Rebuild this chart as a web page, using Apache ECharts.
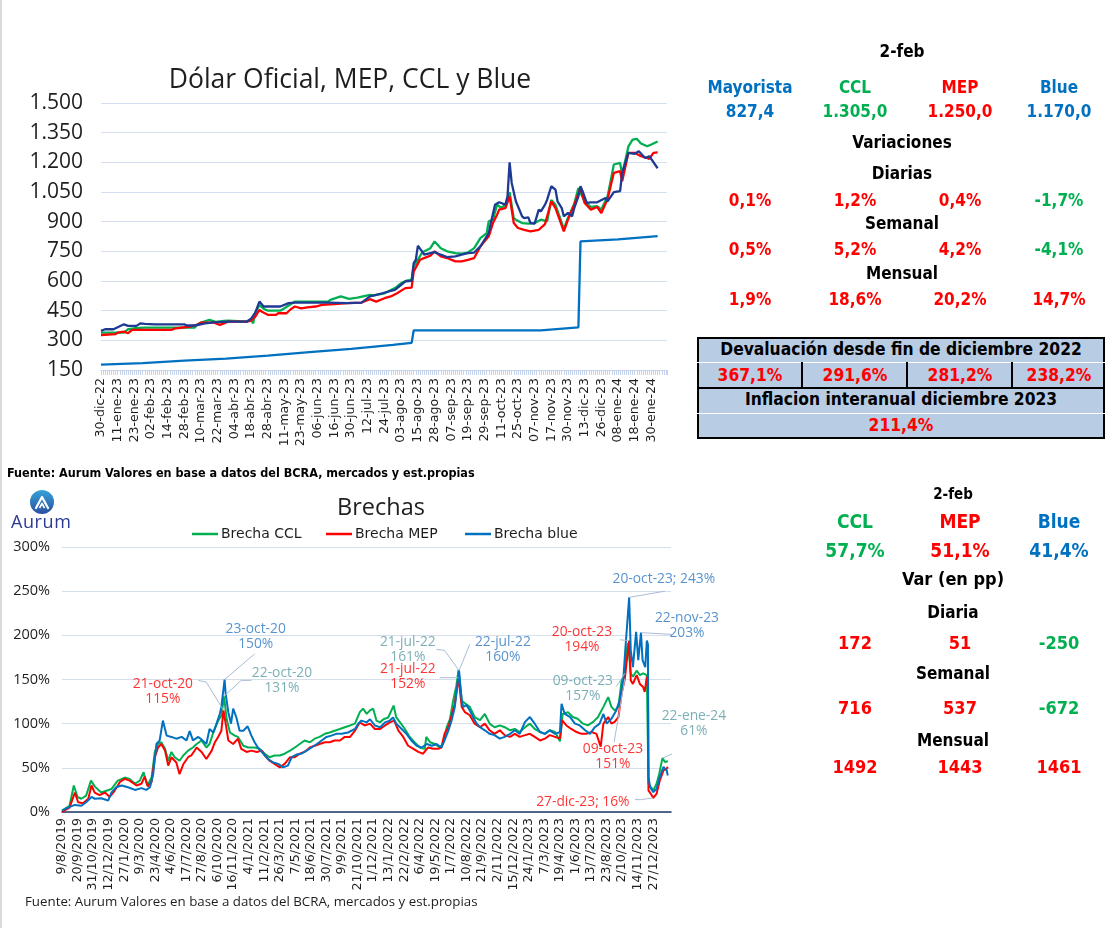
<!DOCTYPE html>
<html><head><meta charset="utf-8">
<script src="https://cdn.jsdelivr.net/npm/echarts@6/dist/echarts.min.js"></script>
<style>
html,body{margin:0;padding:0;background:#fff;}
#wrap{position:relative;width:1106px;height:928px;overflow:hidden;}
#chart{position:absolute;left:0;top:0;width:1106px;height:928px;}
#edge{position:absolute;left:0;top:0;width:2px;height:928px;background:#d9d9d9;}
.t{position:absolute;font-family:"DejaVu Sans Condensed","DejaVu Sans",sans-serif;font-stretch:condensed;font-weight:bold;white-space:nowrap;transform:translate(-50%,-50%);line-height:1;}
.box{position:absolute;left:697px;top:337px;width:408px;height:102px;box-sizing:border-box;background:#B8CCE4;border:2.5px solid #000;}
.hl{position:absolute;height:0;}
.vl{position:absolute;width:0;border-left:2.5px solid #000;}
.src1{position:absolute;left:7px;top:465px;font-family:"DejaVu Sans Condensed","DejaVu Sans",sans-serif;font-stretch:condensed;font-weight:bold;font-size:12.5px;color:#000;white-space:nowrap;}
.src2{position:absolute;left:25px;top:892px;font-family:"Open Sans","Noto Sans",sans-serif;font-size:13.3px;color:#1e1e1e;white-space:nowrap;}
.logo{position:absolute;left:10px;top:489px;width:70px;height:44px;}
.logotxt{position:absolute;left:1px;top:20px;font-family:"Open Sans","Noto Sans",sans-serif;font-size:18px;color:#2B3A8F;letter-spacing:0.6px;}
</style></head>
<body><div id="wrap"><div id="chart"></div><div id="edge"></div></div>
<script>
// ---------------- DATA ----------------
const topLabels = ['30-dic-22','11-ene-23','23-ene-23','02-feb-23','14-feb-23','28-feb-23','10-mar-23','22-mar-23','04-abr-23','18-abr-23','28-abr-23','11-may-23','23-may-23','06-jun-23','16-jun-23','30-jun-23','12-jul-23','24-jul-23','03-ago-23','15-ago-23','28-ago-23','07-sep-23','19-sep-23','29-sep-23','11-oct-23','25-oct-23','07-nov-23','17-nov-23','30-nov-23','13-dic-23','26-dic-23','08-ene-24','18-ene-24','30-ene-24'];
const TOP_STEP = 8;      // trading days between top labels
const bottomLabels = ['9/8/2019','20/9/2019','31/10/2019','12/12/2019','27/1/2020','9/3/2020','23/4/2020','4/6/2020','17/7/2020','27/8/2020','6/10/2020','16/11/2020','4/1/2021','11/2/2021','26/3/2021','7/5/2021','18/6/2021','30/7/2021','9/9/2021','21/10/2021','1/12/2021','13/1/2022','22/2/2022','6/4/2022','19/5/2022','1/7/2022','10/8/2022','21/9/2022','2/11/2022','15/12/2022','24/1/2023','7/3/2023','19/4/2023','1/6/2023','13/7/2023','23/8/2023','2/10/2023','14/11/2023','27/12/2023'];
const BOTTOM_STEP = 29;  // trading days between bottom labels

// top chart: [trading-day index, ARS per USD]
const topMayorista = [[0,177],[20,185],[40,197],[60,208],[80,223],[100,240],[120,257],[140,277],[149,287],[150,350],[211,350],[229,366],[230,800],[248,810],[267,827.4]];
const topCCL = [[0,339],[2,339],[11,339],[12,348],[13,356],[16,361],[21,364],[45,364],[46,378],[48,390],[52,403],[55,393],[59,398],[61,400],[66,397],[70,395],[72,405],[73,386],[74,440],[76,478],[78,460],[80,450],[86,450],[88,462],[93,496],[109,496],[110,505],[115,522],[119,510],[123,516],[129,530],[131,527],[136,538],[141,564],[144,589],[147,603],[149,606],[150,674],[152,707],[154,744],[158,766],[160,800],[163,766],[166,750],[170,741],[173,738],[176,744],[179,766],[182,817],[185,842],[186,902],[188,910],[190,986],[192,969],[194,986],[196,1049],[198,918],[199,910],[202,893],[205,890],[208,893],[211,910],[214,902],[216,1010],[218,985],[220,925],[222,862],[224,920],[227,990],[229,1070],[232,1000],[235,975],[238,978],[240,961],[243,1028],[246,1189],[249,1197],[250,1138],[253,1281],[255,1315],[257,1319],[259,1295],[262,1281],[264,1290],[267,1305]];
const topMEP = [[0,327],[7,331],[8,339],[11,344],[13,336],[15,353],[34,353],[35,359],[43,370],[46,378],[48,390],[54,390],[57,378],[59,386],[61,395],[70,395],[72,400],[74,420],[76,454],[77,446],[80,429],[84,429],[85,437],[89,437],[91,457],[93,471],[96,462],[99,467],[103,471],[106,479],[112,483],[118,488],[125,491],[129,508],[132,496],[136,513],[139,522],[142,538],[146,564],[149,567],[150,648],[153,707],[155,716],[158,728],[160,750],[163,724],[166,716],[170,699],[173,699],[176,707],[179,716],[182,775],[186,826],[188,893],[190,935],[191,961],[194,969],[196,1028],[198,893],[200,868],[203,859],[206,851],[210,859],[213,888],[216,1003],[218,969],[220,910],[222,851],[224,910],[227,986],[230,1070],[232,995],[235,961],[238,974],[240,944],[243,1015],[246,1147],[249,1155],[250,1104],[253,1248],[256,1248],[259,1231],[262,1222],[263,1217],[265,1248],[267,1250]];
const topBlue = [[0,348],[2,356],[6,356],[11,381],[13,373],[17,373],[19,386],[21,383],[26,381],[40,381],[41,375],[45,375],[50,386],[54,391],[61,395],[70,395],[72,410],[74,440],[76,496],[78,471],[86,471],[90,488],[93,491],[109,491],[118,488],[125,491],[129,522],[131,527],[135,538],[138,547],[141,555],[144,581],[146,598],[149,601],[150,690],[151,707],[152,778],[154,750],[155,733],[158,741],[160,746],[163,733],[166,721],[170,724],[173,733],[176,741],[179,744],[182,775],[186,842],[187,893],[189,986],[191,998],[194,986],[195,1028],[196,1200],[197,1096],[199,1003],[200,978],[202,927],[203,918],[205,922],[206,893],[208,890],[210,961],[211,952],[213,986],[214,1011],[216,1079],[218,1062],[219,1003],[221,969],[222,927],[224,944],[226,927],[227,969],[229,1028],[230,1079],[231,1054],[233,995],[235,998],[238,998],[242,1020],[243,1003],[246,1049],[249,1054],[250,1147],[253,1248],[256,1243],[258,1256],[261,1222],[263,1231],[267,1170]];

// bottom chart: [trading-day index, gap %]
const gapCCL = [[0,1.5],[14,7],[22,30],[29,17],[36,15],[45,18.5],[54,35.5],[61,29],[73,22],[83,24],[92,26],[104,35.5],[117,39],[126,37.5],[136,32],[145,35.5],[152,45],[159,30],[167,39],[173,68],[179,77],[185,79],[192,71.5],[198,58],[204,68],[210,62],[219,58],[226,64],[235,69.5],[244,73],[251,77],[260,81],[269,73],[275,77],[282,90],[291,103.5],[297,109],[302,131],[307,105],[313,90],[322,86.5],[328,85],[338,75],[347,73],[359,73],[368,71.5],[378,66],[387,62],[396,64],[406,64],[415,66],[425,69.5],[434,73],[443,77],[452,81],[462,79],[471,83],[480,85],[490,88.5],[499,90],[508,92],[518,94],[527,96],[537,98],[546,100],[555,113],[561,117],[568,111],[574,115],[580,117],[586,103.5],[593,101.5],[599,105],[608,107],[618,120.5],[623,107],[630,101.5],[639,94],[648,85],[657,79],[667,73],[676,71.5],[679,85],[686,79],[695,77],[704,73],[710,77],[717,96],[723,105],[729,126],[735,143],[739,161],[745,126],[751,123],[760,119],[769,107.5],[779,104],[788,111],[797,100],[806,96],[816,98],[825,96],[835,92.5],[844,94],[853,90.5],[863,96],[872,100],[881,94],[891,90.5],[900,88.5],[909,92.5],[919,90.5],[928,80],[933,111],[943,113],[952,107.5],[961,105.5],[971,100],[980,98],[990,102],[999,107.5],[1009,119],[1018,130],[1024,119],[1030,115],[1037,119],[1043,149],[1049,157],[1052,183],[1055,191],[1060,157],[1064,153],[1071,160],[1077,155],[1083,157],[1090,155],[1092,154],[1093,32],[1102,24.5],[1108,32],[1113,43],[1119,61],[1124,56.5],[1129,57.7]];
const gapMEP = [[0,0],[2,1],[14,5],[24,22],[30,11],[39,10],[49,15],[55,30],[61,22],[70,19],[80,22],[89,17],[98,24],[108,34],[117,37.5],[126,35.5],[139,30],[148,32],[154,40],[160,29],[167,34],[173,62],[179,73],[185,77],[192,69.5],[198,52.5],[204,62],[213,56],[219,43],[226,54],[235,62],[241,64],[251,73],[260,68],[269,60],[279,69.5],[285,79],[291,85],[297,92],[301,115],[305,100],[310,81],[319,77],[328,83],[334,71.5],[344,68],[353,69.5],[363,68],[372,69.5],[378,64],[387,58],[396,54.5],[406,50.5],[415,54.5],[425,62],[434,62],[443,66],[452,68],[462,73],[471,75],[480,77],[490,79],[499,79],[508,81],[518,81],[527,85],[537,85],[546,92],[555,101.5],[564,98],[574,100],[583,94],[593,94],[602,98],[611,101.5],[619,103.5],[627,92],[636,85],[645,75],[655,71.5],[664,68],[673,66],[682,73],[692,71.5],[701,71.5],[707,73],[713,88.5],[720,96],[726,109],[732,122.5],[739,152],[745,119],[751,113],[760,109.5],[769,100],[779,96],[788,100],[797,92.5],[806,88.5],[816,92.5],[825,87],[835,85],[844,88.5],[853,85],[863,87],[872,88.5],[881,85],[891,81],[900,83],[909,87],[919,85],[928,83],[932,104],[940,98],[949,94],[959,90.5],[968,88.5],[977,88.5],[987,90.5],[996,88.5],[1004,74],[1009,100],[1018,107.5],[1024,100],[1030,102],[1037,107.5],[1043,134],[1049,151],[1052,168],[1057,194],[1060,149],[1064,145],[1071,155],[1077,145],[1083,141.5],[1086,136],[1090,153],[1092,150],[1093,24.5],[1099,19],[1102,16],[1108,20.5],[1114,35.5],[1121,47],[1127,49],[1129,51.1]];
const gapBlue = [[0,1.5],[11,5],[24,8],[36,7],[45,11],[55,17],[61,15],[73,15.5],[86,13],[92,22],[101,28],[111,30],[123,28],[136,25],[148,27],[157,25],[164,28],[170,43],[176,77],[182,81],[188,103.5],[195,86.5],[204,85],[213,83],[223,85],[232,81],[238,91.5],[244,81],[254,85],[260,82],[269,77],[275,94],[282,90],[288,100],[294,111],[297,119],[303,150],[305,134],[310,113],[315,100],[319,117],[325,107],[331,92],[338,92],[346,97],[353,86.5],[359,79],[365,73],[375,66],[384,60],[394,56],[403,54.5],[412,50.5],[421,52.5],[428,62],[437,65],[446,66],[456,69.5],[465,73],[475,77],[484,81],[493,85],[502,86.5],[511,88.5],[521,88.5],[533,90],[546,94],[552,100],[558,103.5],[568,101.5],[574,105],[583,98],[593,96],[602,101.5],[611,103.5],[617,107],[623,100],[633,94],[642,88.5],[651,81],[661,75],[670,73],[680,77],[689,75],[698,77],[707,73],[713,81],[720,92],[726,103.5],[732,118.5],[740,160],[745,126],[748,119],[754,121],[760,115],[766,107.5],[773,100],[779,96],[788,92.5],[797,88.5],[806,87],[816,83],[825,85],[835,88.5],[844,92.5],[853,88.5],[863,102],[872,107.5],[881,100],[891,90.5],[900,88.5],[909,92.5],[919,88.5],[928,90.5],[931,122.5],[937,111],[947,107.5],[956,100],[965,98],[975,92.5],[984,88.5],[993,96],[1002,100],[1009,111],[1015,100],[1024,105.5],[1033,115],[1039,126],[1046,149],[1050,185],[1057,243],[1060,183],[1064,164],[1070,204],[1074,172],[1079,203],[1082,172],[1087,164],[1090,194],[1092,190],[1093,39.5],[1096,28],[1102,22.5],[1108,26],[1114,39.5],[1121,51],[1127,47],[1129,41.4]];

// tables
const quoteDate = '2-feb';
const quoteNames = ['Mayorista','CCL','MEP','Blue'];
const quoteValues = ['827,4','1.305,0','1.250,0','1.170,0'];
const varDiarias = ['0,1%','1,2%','0,4%','-1,7%'];
const varSemanal = ['0,5%','5,2%','4,2%','-4,1%'];
const varMensual = ['1,9%','18,6%','20,2%','14,7%'];
const devalTitle = 'Devaluación desde fin de diciembre 2022';
const devalValues = ['367,1%','291,6%','281,2%','238,2%'];
const inflTitle = 'Inflacion interanual diciembre 2023';
const inflValue = '211,4%';
const gapNames = ['CCL','MEP','Blue'];
const gapValues = ['57,7%','51,1%','41,4%'];
const gapDiaria = ['172','51','-250'];
const gapSemanal = ['716','537','-672'];
const gapMensual = ['1492','1443','1461'];
const sourceText = 'Fuente: Aurum Valores en base a datos del BCRA, mercados y est.propias';

// ---------------- STYLE ----------------
const GREEN='#00B050', RED='#FF0000', BLUE='#0070C0', NAVY='#1F3A93', TEAL='#5A9BA3', ABLUE='#2E78C2', INK='#1e1e1e';
const CF = '"Open Sans","Noto Sans",sans-serif';
const XF = '"DejaVu Sans",sans-serif';

const annotations = [
  {text:'21-oct-20\n115%', color:RED,  at:[188,136], leader:[[254,149],[269,147],[301,115]]},
  {text:'23-oct-20\n150%', color:ABLUE,at:[361,199], leader:[[359,179],[303,150]]},
  {text:'22-oct-20\n131%', color:TEAL, at:[410,148.4], leader:[[353,149],[334,149],[302,131]]},
  {text:'21-jul-22\n161%', color:TEAL, at:[644.5,183.5], leader:[[698,184],[713,183],[739,161]]},
  {text:'21-jul-22\n152%', color:RED,  at:[644.5,152.9], leader:[[704,152],[739,152]]},
  {text:'22-jul-22\n160%', color:ABLUE,at:[821.6,183.5], leader:[[760,190],[740,160]]},
  {text:'20-oct-23\n194%', color:RED,  at:[969,195.4], leader:[[1040,195],[1057,194]]},
  {text:'09-oct-23\n157%', color:TEAL, at:[970.7,139.4], leader:[[1033,142],[1049,157]]},
  {text:'09-oct-23\n151%', color:RED,  at:[1026.7,62.4], leader:[[1029,79],[1049,151]]},
  {text:'27-dic-23; 16%',  color:RED,  at:[970.7,11], leader:[[1068,14],[1080,14],[1101,16]]},
  {text:'20-oct-23; 243%', color:ABLUE,at:[1121.7,263.2], leader:[[1057,243],[1124,250]]},
  {text:'22-nov-23\n203%', color:ABLUE,at:[1164.7,211.2], leader:[[1079,203],[1139,201]]},
  {text:'22-ene-24\n61%',  color:TEAL, at:[1177.6,99.8], leader:[[1119,61],[1142,67]]}
];

function thousands(v){ return v>=1000 ? Math.floor(v/1000)+'.'+String(v%1000).padStart(3,'0') : String(v); }
function lineSeries(name, data, color, xi, w){
  return {name, type:'line', data, xAxisIndex:xi, yAxisIndex:xi, showSymbol:false, symbol:'none',
    lineStyle:{color, width:w}, itemStyle:{color}, silent:true, animation:false};
}

const chart = echarts.init(document.getElementById('chart'));
const legendBase = {top:527, padding:0, icon:'rect', itemWidth:26, itemHeight:2.5, itemGap:0,
  textStyle:{fontFamily:XF, fontSize:14, color:INK, padding:[0,0,0,-2]}, selectedMode:false};
chart.setOption({
  animation:false,
  graphic:[
    {type:'text', x:350, y:80, style:{text:'Dólar Oficial, MEP, CCL y Blue', font:'normal 26.5px '+CF, fill:INK, textAlign:'center', textVerticalAlign:'middle'}},
    {type:'text', x:381, y:508, style:{text:'Brechas', font:'normal 23.5px '+CF, fill:INK, textAlign:'center', textVerticalAlign:'middle'}}
  ],
  legend:[
    Object.assign({}, legendBase, {left:192, data:['Brecha CCL']}),
    Object.assign({}, legendBase, {left:326, data:['Brecha MEP']}),
    Object.assign({}, legendBase, {left:465, data:['Brecha blue']})
  ],
  grid:[{left:101, top:103, width:566, height:267},{left:62, top:547, width:609, height:265}],
  xAxis:[
    {type:'value', gridIndex:0, min:0, max:271.5, interval:TOP_STEP,
      axisLine:{lineStyle:{color:'#C5D3EC', width:1}},
      axisTick:{show:true, length:5, lineStyle:{color:'#C5D3EC'}},
      minorTick:{show:true, splitNumber:TOP_STEP, length:5, lineStyle:{color:'#C5D3EC'}},
      splitLine:{show:false},
      axisLabel:{rotate:90, fontSize:12.6, margin:8, color:INK, fontFamily:XF, showMaxLabel:false,
        formatter:v=>{const k=v/TOP_STEP; return Number.isInteger(k)&&topLabels[k]?topLabels[k]:'';}}},
    {type:'value', gridIndex:1, min:0, max:1135, interval:BOTTOM_STEP,
      axisLine:{lineStyle:{color:'#1F3864', width:1.5}},
      axisTick:{show:false}, splitLine:{show:false},
      axisLabel:{rotate:90, fontSize:12.6, margin:6, color:INK, fontFamily:XF, showMaxLabel:false,
        formatter:v=>{const k=v/BOTTOM_STEP; return Number.isInteger(k)&&bottomLabels[k]?bottomLabels[k]:'';}}}
  ],
  yAxis:[
    {type:'value', gridIndex:0, min:150, max:1500, interval:150,
      axisLine:{show:false}, axisTick:{show:false},
      splitLine:{lineStyle:{color:'#D3DEF1', width:1.2}},
      axisLabel:{fontSize:21, margin:18, color:INK, fontFamily:CF, formatter:thousands}},
    {type:'value', gridIndex:1, min:0, max:300, interval:50,
      axisLine:{show:false}, axisTick:{show:false},
      splitLine:{lineStyle:{color:'#D6DEEC', width:1.2}},
      axisLabel:{fontSize:14.5, margin:12, color:INK, fontFamily:CF, formatter:'{value}%'}}
  ],
  series:[
    lineSeries('Mayorista', topMayorista, BLUE, 0, 2.3),
    lineSeries('CCL', topCCL, GREEN, 0, 2.3),
    lineSeries('MEP', topMEP, RED, 0, 2.3),
    lineSeries('Blue', topBlue, NAVY, 0, 2.3),
    lineSeries('Brecha CCL', gapCCL, GREEN, 1, 2),
    lineSeries('Brecha MEP', gapMEP, RED, 1, 2),
    lineSeries('Brecha blue', gapBlue, BLUE, 1, 2),
    {type:'lines', coordinateSystem:'cartesian2d', xAxisIndex:1, yAxisIndex:1, polyline:true, silent:true, z:5,
      lineStyle:{color:'#A9BCD6', width:1, opacity:1},
      data:annotations.map(a=>({coords:a.leader}))},
    {type:'scatter', xAxisIndex:1, yAxisIndex:1, symbolSize:1, clip:false, silent:true, z:6,
      itemStyle:{color:'rgba(0,0,0,0)'},
      data:annotations.map(a=>({value:a.at, label:{show:true, position:'inside', formatter:a.text,
        color:a.color, fontFamily:CF, fontSize:13.8, lineHeight:15, align:'center', verticalAlign:'middle'}}))}
  ]
});

// ---------------- HTML tables ----------------
const wrap = document.getElementById('wrap');
function put(txt, x, y, size, color){
  const d=document.createElement('div'); d.className='t'; d.textContent=txt;
  d.style.left=x+'px'; d.style.top=y+'px'; d.style.fontSize=size+'px'; d.style.color=color;
  wrap.appendChild(d); return d;
}
const sgn = s => s.trim().startsWith('-') ? GREEN : RED;
const colTop = [750,855,960,1059];
const nameColors = [BLUE,GREEN,RED,BLUE];
put(quoteDate, 902, 51, 17, '#000');
quoteNames.forEach((n,i)=>put(n, colTop[i], 87, 17, nameColors[i]));
quoteValues.forEach((n,i)=>put(n, colTop[i], 111, 17, nameColors[i]));
put('Variaciones', 902, 142, 17, '#000');
put('Diarias', 902, 173, 17, '#000');
varDiarias.forEach((n,i)=>put(n, colTop[i], 200, 17, sgn(n)));
put('Semanal', 902, 223, 17, '#000');
varSemanal.forEach((n,i)=>put(n, colTop[i], 249, 17, sgn(n)));
put('Mensual', 902, 273, 17, '#000');
varMensual.forEach((n,i)=>put(n, colTop[i], 299, 17, sgn(n)));

const box=document.createElement('div'); box.className='box'; wrap.appendChild(box);
function hl(y,color,w){const d=document.createElement('div'); d.className='hl'; d.style.left='697px'; d.style.width='408px'; d.style.top=y+'px'; d.style.borderTop=w+'px solid '+color; wrap.appendChild(d);}
function vl(x){const d=document.createElement('div'); d.className='vl'; d.style.left=x+'px'; d.style.top='362px'; d.style.height='26px'; wrap.appendChild(d);}
hl(362,'#fff',1.5); hl(387,'#000',2.5); hl(412.5,'#fff',1.5);
vl(801); vl(906); vl(1011);
put(devalTitle, 901, 350, 17.3, '#000');
devalValues.forEach((n,i)=>put(n, colTop[i], 375.5, 17.3, RED));
put(inflTitle, 901, 400, 17.3, '#000');
put(inflValue, 901, 426, 17.3, RED);

const colBot = [855,960,1059];
const gapColors = [GREEN,RED,BLUE];
put(quoteDate, 953, 494, 15, '#000');
gapNames.forEach((n,i)=>put(n, colBot[i], 521, 19, gapColors[i]));
gapValues.forEach((n,i)=>put(n, colBot[i], 550, 19, gapColors[i]));
put('Var (en pp)', 953, 579, 18, '#000');
put('Diaria', 953, 612, 17, '#000');
gapDiaria.forEach((n,i)=>put(n, colBot[i], 643, 18, sgn(n)));
put('Semanal', 953, 673, 17, '#000');
gapSemanal.forEach((n,i)=>put(n, colBot[i], 708, 18, sgn(n)));
put('Mensual', 953, 740, 17, '#000');
gapMensual.forEach((n,i)=>put(n, colBot[i], 767, 18, sgn(n)));

// sources
const f1=document.createElement('div'); f1.className='src1'; f1.textContent=sourceText; wrap.appendChild(f1);
const f2=document.createElement('div'); f2.className='src2'; f2.textContent=sourceText; wrap.appendChild(f2);

// logo
const logo=document.createElement('div'); logo.className='logo';
logo.innerHTML='<svg width="66" height="26" style="position:absolute;left:0;top:0"><defs><linearGradient id="lg" x1="0" y1="0" x2="0" y2="1"><stop offset="0" stop-color="#36A2D8"/><stop offset="1" stop-color="#2B4FA0"/></linearGradient></defs><circle cx="32" cy="13" r="12" fill="url(#lg)"/><path d="M26 19 L32 8 L38 19" stroke="#fff" stroke-width="2.2" fill="none" stroke-linejoin="round" stroke-linecap="round"/><path d="M29.5 19 L32 14.5 L34.5 19" stroke="#fff" stroke-width="1.6" fill="none" stroke-linejoin="round"/></svg>';
const lt=document.createElement('div'); lt.className='logotxt'; lt.textContent='Aurum'; logo.appendChild(lt);
wrap.appendChild(logo);
</script></body></html>
